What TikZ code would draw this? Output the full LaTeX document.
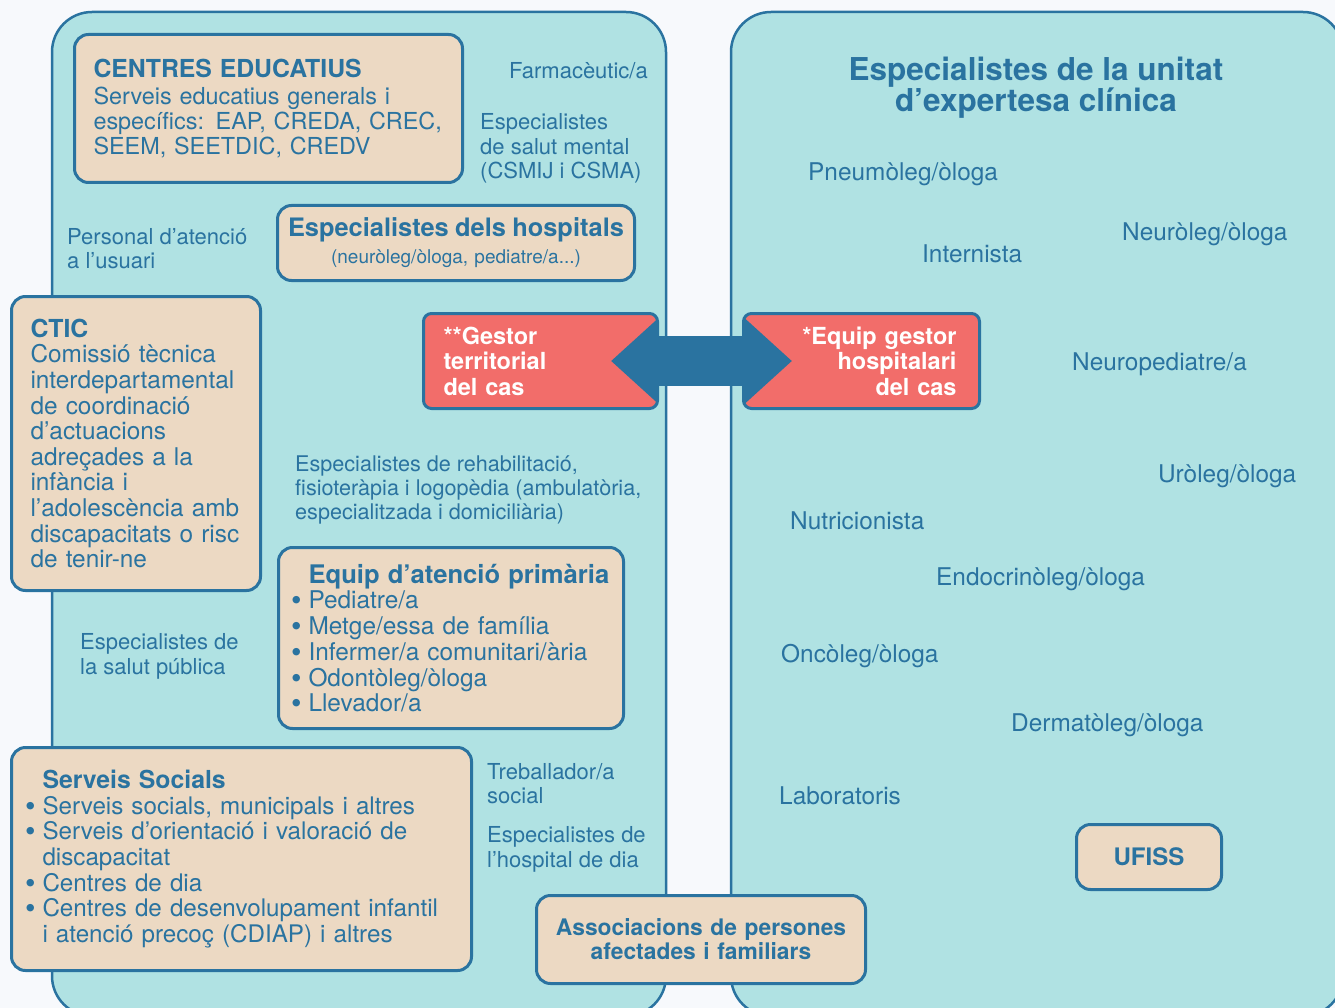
\documentclass[tikz,border=0pt]{standalone}
\usepackage{fontspec}
\setmainfont{TeX Gyre Heros}
\usepackage{tikz}
\usetikzlibrary{arrows.meta,positioning}

\definecolor{pagebg}{HTML}{F7F9FC}
\definecolor{panelfill}{HTML}{B0E2E3}
\definecolor{lineblue}{HTML}{2A73A0}
\definecolor{boxbeige}{HTML}{ECD9C3}
\definecolor{casered}{HTML}{F26D6A}

\newcommand{\boxfont}{\fontsize{24.2}{25.6}\selectfont}
\newcommand{\boxhead}{\bfseries\fontsize{24.8}{25.6}\selectfont}
\newcommand{\casefont}{\bfseries\fontsize{23.5}{25.5}\selectfont}
\newcommand{\lblfont}{\fontsize{22}{24.5}\selectfont}
\newcommand{\specfont}{\fontsize{24.4}{26}\selectfont}
\newcommand{\itembullet}{\leavevmode\llap{\smash{\raisebox{-2pt}{\fontsize{30}{0}\selectfont\textbullet}}\hspace{7pt}}}

\begin{document}
\begin{tikzpicture}[x=1pt, y=-1pt,
    panel/.style={draw=lineblue, line width=2.5pt, fill=panelfill, rounded corners=40pt},
    infobox/.style={draw=lineblue, line width=3pt, fill=boxbeige, rounded corners=14pt,
        text=lineblue, anchor=north west, font=\boxfont},
    casebox/.style={draw=lineblue, line width=3pt, fill=casered, rounded corners=8pt,
        text=white, anchor=north west, font=\casefont, minimum height=95pt},
    lbl/.style={text=lineblue, anchor=west, align=left, inner sep=0pt, font=\lblfont, yshift=-1.5pt},
    speclbl/.style={text=lineblue, anchor=west, inner sep=0pt, font=\specfont, yshift=-2pt},
    linkarrow/.style={draw=lineblue, line width=50pt,
        {Triangle[length=47pt,width=82pt]}-{Triangle[length=47pt,width=82pt]}}]

% Page
\path[use as bounding box, fill=pagebg] (0,0) rectangle (1335,1008);

% Panels
\draw[panel] (52,12) rectangle (666,1016);
\draw[panel] (731,12) rectangle (1343,1016);

% Left panel boxes
\node[infobox, minimum width=388pt, minimum height=148pt, inner xsep=19pt, text width=350pt,
      align=left, font=\fontsize{23.4}{25}\selectfont] (centres) at (73,33)
  {{\boxhead CENTRES EDUCATIUS}\\[2pt]
   Serveis educatius generals i\\
   específics: EAP, CREDA, CREC,\\
   SEEM, SEETDIC, CREDV};

\node[infobox, minimum width=357pt, minimum height=75pt, inner xsep=6pt, text width=345pt,
      align=center, font=\fontsize{19}{27}\selectfont] (hospitals) at (276,204)
  {{\bfseries\fontsize{25.4}{27}\selectfont Especialistes dels hospitals}\\
   (neuròleg/òloga, pediatre/a...)};

\node[infobox, minimum width=249pt, minimum height=294pt, inner xsep=19pt, text width=211pt,
      align=left, font=\fontsize{24.4}{25.6}\selectfont] (ctic) at (10,295)
  {{\boxhead CTIC}\\
   Comissió tècnica\\
   interdepartamental\\
   de coordinació\\
   d’actuacions\\
   adreçades a la\\
   infància i\\
   l’adolescència amb\\
   discapacitats o risc\\
   de tenir-ne};

\node[infobox, minimum width=345pt, minimum height=181pt, inner xsep=30pt, text width=285pt,
      align=left, font=\fontsize{24.4}{25.75}\selectfont] (primaria) at (277,546)
  {\mbox{\bfseries\fontsize{25.6}{25.75}\selectfont Equip d’atenció primària}\\
   \itembullet Pediatre/a\\
   \itembullet Metge/essa de família\\
   \itembullet Infermer/a comunitari/ària\\
   \itembullet Odontòleg/òloga\\
   \itembullet Llevador/a};

\node[infobox, minimum width=460pt, minimum height=223pt, inner xsep=31pt, text width=398pt,
      align=left] (socials) at (10,746)
  {{\boxhead Serveis Socials}\\
   \itembullet Serveis socials, municipals i altres\\
   \itembullet Serveis d’orientació i valoració de\\
   discapacitat\\
   \itembullet Centres de dia\\
   \itembullet Centres de desenvolupament infantil\\
   i atenció precoç (CDIAP) i altres};

\node[infobox, minimum width=329pt, minimum height=88pt, inner xsep=10pt, text width=309pt,
      align=center, font=\bfseries\fontsize{22.8}{24}\selectfont] (assoc) at (535,894)
  {Associacions de persones\\afectades i familiars};

% Case managers
\node[casebox, minimum width=234pt, inner xsep=20pt, text width=194pt, align=left]
  (gestor) at (422,312) {**Gestor\\territorial\\del cas};
\node[casebox, minimum width=236pt, inner xsep=23pt, text width=190pt, align=right]
  (equipgestor) at (742,312) {*Equip gestor\\hospitalari\\del cas};
\draw[linkarrow] ([xshift=-48pt]gestor.east) -- ([xshift=50pt]equipgestor.west);

% Left panel labels
\node[lbl] (farma) at (509,69) {Farmacèutic/a};
\node[lbl] (salutmental) at (480,147) {Especialistes\\de salut mental\\(CSMIJ i CSMA)};
\node[lbl] (personal) at (67,247) {Personal d’atenció\\a l’usuari};
\node[lbl, font=\fontsize{21.6}{24}\selectfont] (rehab) at (295,488)
  {Especialistes de rehabilitació,\\fisioteràpia i logopèdia (ambulatòria,\\especialitzada i domiciliària)};
\node[lbl] (salutpub) at (80,655) {Especialistes de\\la salut pública};
\node[lbl] (treball) at (487,782) {Treballador/a\\social};
\node[lbl] (hospdia) at (487,848) {Especialistes de\\l’hospital de dia};

% Right panel
\node[text=lineblue, align=center, font=\bfseries\fontsize{31.5}{31}\selectfont] (unitat) at (1036,88)
  {Especialistes de la unitat\\d’expertesa clínica};
\foreach \nm/\px/\py/\txt in {pneumo/808/172/{Pneumòleg/òloga}, neuro/1122/232/{Neuròleg/òloga},
    internista/922/252/Internista, neuroped/1072/362/{Neuropediatre/a}, uro/1158/474/{Uròleg/òloga},
    nutri/790/519/Nutricionista, endo/936/577/{Endocrinòleg/òloga}, onco/781/654/{Oncòleg/òloga},
    derma/1011/723/{Dermatòleg/òloga}, labs/779/794/Laboratoris}
  \node[speclbl] (\nm) at (\px,\py) {\txt};
\node[infobox, minimum width=145pt, minimum height=65pt, font=\bfseries\fontsize{24.1}{26}\selectfont]
  (ufiss) at (1075,823) {UFISS};
\end{tikzpicture}
\end{document}
